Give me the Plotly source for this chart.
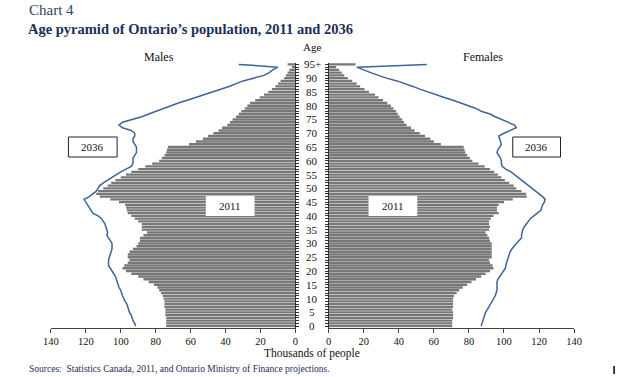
import plotly.graph_objects as go

W, H = 626, 377

ages = list(range(96))
age_tick_vals = list(range(0, 96, 5))
age_tick_text = [str(a) for a in range(0, 95, 5)] + ["95+"]
x_tick_vals = list(range(0, 141, 20))

# Thousands of people, index = age 0 .. 95+
male_2011 = [74, 74, 74, 74, 74.5, 74.5, 74.5, 75, 75, 75,
             75.5, 76, 77, 78, 79, 81, 84, 87, 90, 94,
             97, 99, 98, 96, 95, 96, 96, 95, 93, 91,
             90, 89, 89, 87, 85, 88, 88, 88, 90, 92,
             94, 96, 96.5, 97, 97.5, 101, 106, 112, 114, 113,
             110, 107.5, 105.5, 103, 100, 97, 94, 90, 86, 82,
             78, 76.5, 75, 74, 73.5, 73, 61, 57, 53, 50,
             47, 44, 42, 39, 37.5, 36, 34, 32.5, 31, 29,
             27.5, 26, 23, 20.5, 18, 15.5, 13.5, 11.5, 10, 8.5,
             6.5, 5.5, 4.5, 3.5, 2, 4.5]
male_2036 = [91.5, 92, 93, 93.5, 94, 95, 95.5, 96, 96.5, 97.5,
             98.5, 99, 99.5, 100, 101, 101.5, 102, 102.5, 103, 104,
             105, 106.5, 107, 107, 107, 106.5, 106, 105.5, 105, 105,
             105, 106, 107, 108, 107.5, 108, 108.5, 109, 110, 111,
             113, 116, 117, 118, 119, 120, 121, 118, 116, 114,
             113, 112, 110, 107.5, 105, 103, 100, 97, 94, 93,
             93, 93, 92, 91, 91, 91, 92, 93, 93, 92,
             92, 94, 99, 101, 99, 93, 88, 84, 80, 76,
             71, 67, 62, 57, 52, 47, 43, 38, 34, 30,
             24, 18, 15, 13, 10, 32.5]
female_2011 = [70.5, 70.5, 70.5, 71, 71, 71, 70.5, 71, 71, 71,
               71, 71.5, 73, 74.5, 76.5, 79, 81.5, 84, 87, 89.5,
               92, 94, 93.5, 92, 91.5, 93, 93, 93, 93, 93,
               93, 92, 91.5, 90.5, 89.5, 91.5, 92, 91.5, 91.5, 92.5,
               94, 97, 96, 96, 97, 100, 105, 113, 112.5, 110,
               107, 105.5, 103, 100.5, 98.5, 96.5, 94.5, 92, 89, 85.5,
               82, 80.5, 79, 78, 77.5, 77, 64, 60, 58, 55,
               52, 49, 47, 44.5, 43, 42, 40.5, 39.5, 38.5, 37,
               35.5, 33.5, 31, 28.5, 26.5, 23, 20.5, 18, 16, 13.5,
               11, 9, 7.5, 6, 4.3, 15.4]
female_2036 = [87, 87.5, 88, 88.5, 89, 89.5, 90.5, 91.5, 92.5, 93.5,
               94.5, 95, 95.5, 96, 96, 96, 96, 96.5, 97.5, 98.5,
               100, 100.8, 101, 101.5, 102, 102.5, 103, 103.5, 104.5, 105.5,
               107, 108.5, 110, 110, 110.3, 110.7, 111.5, 112.5, 113.5, 115,
               117, 119, 121, 121.5, 122, 123, 123.5, 122, 120, 118,
               116.5, 114.5, 112.5, 110.5, 108, 106, 104, 101, 99, 98.5,
               98.5, 98, 97, 96, 96.5, 97.5, 98.5, 98, 97.5, 97,
               100, 104, 107, 106, 102, 98, 95, 92, 87, 84,
               80, 75, 71, 66, 61, 56, 52, 48, 44, 39,
               33, 28, 24, 20, 16, 56]

for s in (male_2011, male_2036, female_2011, female_2036):
    assert len(s) == 96

BAR = "#777777"
LINE = "#3D6596"
SERIF = "Liberation Serif"
NAVY = "#1B2F57"


def px(x):
    return x / W


def py(y):
    return 1 - y / H


fig = go.Figure()
fig.add_trace(go.Bar(x=male_2011, y=ages, orientation="h", marker=dict(color=BAR, line=dict(width=0)),
                     xaxis="x", yaxis="y", name="2011 males"))
fig.add_trace(go.Scatter(x=male_2036, y=ages, mode="lines", line=dict(color=LINE, width=1.5),
                         xaxis="x", yaxis="y", name="2036 males"))
fig.add_trace(go.Bar(x=female_2011, y=ages, orientation="h", marker=dict(color=BAR, line=dict(width=0)),
                     xaxis="x2", yaxis="y2", name="2011 females"))
fig.add_trace(go.Scatter(x=female_2036, y=ages, mode="lines", line=dict(color=LINE, width=1.5),
                         xaxis="x2", yaxis="y2", name="2036 females"))

ydom = [py(327.5), py(63)]
common_x = dict(showgrid=False, zeroline=False, showline=True, linecolor="#444", linewidth=1,
                ticks="outside", ticklen=4, tickcolor="#444", tickvals=x_tick_vals,
                tickfont=dict(family=SERIF, size=10.5, color="#111"))
common_y = dict(showgrid=False, zeroline=False, showline=True, linecolor="#333", linewidth=1,
                ticks="outside", ticklen=3, tickcolor="#333", tickvals=ages, showticklabels=False,
                range=[-0.5, 95.5], domain=ydom, fixedrange=True)

fig.update_layout(
    width=W, height=H, margin=dict(l=0, r=0, t=0, b=0),
    paper_bgcolor="white", plot_bgcolor="white", showlegend=False,
    bargap=0.14,
    xaxis=dict(domain=[px(44), px(295)], range=[140, 0], anchor="y", **common_x),
    yaxis=dict(anchor="x", side="right", **common_y),
    xaxis2=dict(domain=[px(329), px(581)], range=[0, 140], anchor="y2", **common_x),
    yaxis2=dict(anchor="x2", side="left", matches="y", **common_y),
)

ann = []
# age labels in the middle column
for v, t in zip(age_tick_vals, age_tick_text):
    ann.append(dict(x=px(312), y=v, xref="paper", yref="y", text=t, showarrow=False,
                    xanchor="center", yanchor="middle", font=dict(family=SERIF, size=11, color="#111")))
ann += [
    dict(x=px(19), y=py(10), xref="paper", yref="paper", text="Chart 4", showarrow=False,
         xanchor="left", yanchor="middle", font=dict(family=SERIF, size=15, color="#2E4466")),
    dict(x=px(18), y=py(29), xref="paper", yref="paper",
         text="<b>Age pyramid of Ontario\u2019s population, 2011 and 2036</b>", showarrow=False,
         xanchor="left", yanchor="middle", font=dict(family=SERIF, size=14.5, color=NAVY)),
    dict(x=px(312), y=py(47), xref="paper", yref="paper", text="Age", showarrow=False,
         xanchor="center", yanchor="middle", font=dict(family=SERIF, size=11, color="#111")),
    dict(x=px(155), y=py(57), xref="paper", yref="paper", text="Males", showarrow=False,
         xanchor="center", yanchor="middle", font=dict(family=SERIF, size=12, color="#111")),
    dict(x=px(487), y=py(57), xref="paper", yref="paper", text="Females", showarrow=False,
         xanchor="center", yanchor="middle", font=dict(family=SERIF, size=12, color="#111")),
    dict(x=px(312), y=py(353.5), xref="paper", yref="paper", text="Thousands of people", showarrow=False,
         xanchor="center", yanchor="middle", font=dict(family=SERIF, size=11.5, color="#111")),
    dict(x=px(19), y=py(369), xref="paper", yref="paper",
         text="Sources:  Statistics Canada, 2011, and Ontario Ministry of Finance projections.",
         showarrow=False, xanchor="left", yanchor="middle", font=dict(family=SERIF, size=9.5, color=NAVY)),
]

shapes = []
boxes = [((62, 137, 112, 157), "2036", True), ((518, 137, 567, 157), "2036", True),
         ((203, 196, 253, 216), "2011", False), ((370, 196, 420, 216), "2011", False)]
for (x0, y0, x1, y1), label, border in boxes:
    shapes.append(dict(type="rect", xref="paper", yref="paper", x0=px(x0), x1=px(x1), y0=py(y0), y1=py(y1),
                       fillcolor="white", line=dict(color="#222" if border else "white", width=1 if border else 0),
                       layer="above"))
    ann.append(dict(x=px((x0 + x1) / 2), y=py((y0 + y1) / 2), xref="paper", yref="paper", text=label,
                    showarrow=False, xanchor="center", yanchor="middle",
                    font=dict(family=SERIF, size=11, color="#111")))
# small mark at bottom right corner
shapes.append(dict(type="line", xref="paper", yref="paper", x0=px(622), x1=px(622), y0=py(366), y1=py(374),
                   line=dict(color="#000", width=1.5)))

fig.update_layout(annotations=ann, shapes=shapes)
fig.write_html("out.html", config={"displayModeBar": False},
               post_script="document.body.style.margin='0';document.body.style.overflow='hidden';")
